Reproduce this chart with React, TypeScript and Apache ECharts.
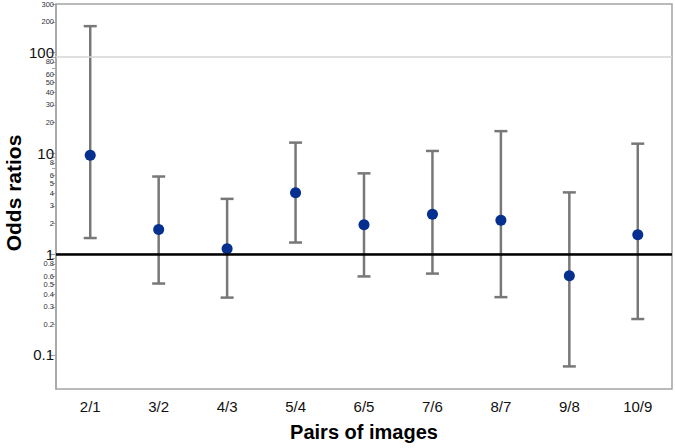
import React, { useEffect, useRef } from "react";
import * as echarts from "echarts";

const categories = ["2/1", "3/2", "4/3", "5/4", "6/5", "7/6", "8/7", "9/8", "10/9"];
const oddsRatio = [9.5, 1.75, 1.13, 4.05, 1.95, 2.48, 2.16, 0.61, 1.55];
const lowerCI = [1.44, 0.51, 0.37, 1.3, 0.6, 0.64, 0.374, 0.077, 0.227];
const upperCI = [181, 5.86, 3.52, 12.7, 6.3, 10.5, 16.5, 4.08, 12.4];

const majorTickValues = [0.1, 1, 10, 100];
const minorLabelValues = [0.2, 0.3, 0.4, 0.5, 0.6, 0.8, 2, 3, 4, 5, 6, 8, 20, 30, 40, 50, 60, 80, 200, 300];
const minorTickValues = [0.2, 0.3, 0.4, 0.5, 0.6, 0.7, 0.8, 0.9, 2, 3, 4, 5, 6, 7, 8, 9, 20, 30, 40, 50, 60, 70, 80, 90, 200, 300];
const yMin = 0.046;
const yMax = 300;
const referenceValue = 1;
const gridLineValue = 90;

const lg = (v: number) => Math.log10(v);
const fmt = (v: number) => String(parseFloat(Math.pow(10, v).toPrecision(2)));

const FONT = "'Liberation Sans', Arial, sans-serif";
const AXIS_GRAY = "#a4a4a4";

export default function App() {
  const ref = useRef<HTMLDivElement>(null);
  useEffect(() => {
    if (!ref.current) return;
    const chart = echarts.init(ref.current, null, { renderer: "svg" });
    const baseY = {
      type: "value" as const,
      position: "left" as const,
      min: lg(yMin),
      max: lg(yMax),
      splitLine: { show: false },
    };
    chart.setOption({
      animation: false,
      backgroundColor: "#ffffff",
      grid: {
        left: 56,
        right: 3,
        top: 3,
        bottom: 59,
        show: true,
        borderColor: AXIS_GRAY,
        borderWidth: 1.5,
      },
      xAxis: {
        type: "category",
        data: categories,
        boundaryGap: true,
        axisLine: { lineStyle: { color: AXIS_GRAY, width: 1.5 } },
        axisTick: { alignWithLabel: true, length: 5, lineStyle: { color: AXIS_GRAY, width: 1.5 } },
        axisLabel: { color: "#111", fontSize: 15, fontFamily: FONT, margin: 10 },
        splitLine: { show: false },
      },
      yAxis: [
        {
          ...baseY,
          axisLine: { show: true, lineStyle: { color: AXIS_GRAY, width: 1.5 } },
          axisTick: {
            show: true,
            length: 7,
            lineStyle: { color: AXIS_GRAY, width: 1.2 },
            customValues: majorTickValues.map(lg),
          },
          axisLabel: {
            show: true,
            fontSize: 15,
            lineHeight: 11,
            color: "#111",
            fontFamily: FONT,
            margin: 2,
            customValues: majorTickValues.map(lg),
            formatter: (v: number) => fmt(v),
          },
        },
        {
          ...baseY,
          axisLine: { show: false },
          axisTick: {
            show: true,
            length: 4,
            lineStyle: { color: AXIS_GRAY, width: 1 },
            customValues: minorTickValues.map(lg),
          },
          axisLabel: {
            show: true,
            fontSize: 7.5,
            lineHeight: 7,
            color: "#333",
            fontFamily: FONT,
            margin: 2,
            customValues: minorLabelValues.map(lg),
            formatter: (v: number) => fmt(v),
          },
        },
      ],
      graphic: [
        {
          type: "text",
          x: 364,
          y: 432,
          style: {
            text: "Pairs of images",
            font: `bold 20px ${FONT}`,
            fill: "#000",
            align: "center",
            verticalAlign: "middle",
          },
        },
        {
          type: "text",
          x: 13,
          y: 193,
          rotation: Math.PI / 2,
          style: {
            text: "Odds ratios",
            font: `bold 21px ${FONT}`,
            fill: "#000",
            align: "center",
            verticalAlign: "middle",
          },
        },
      ],
      series: [
        {
          type: "line",
          data: [],
          z: 1,
          markLine: {
            silent: true,
            symbol: "none",
            label: { show: false },
            data: [
              { yAxis: lg(gridLineValue), lineStyle: { color: "#d4d4d4", width: 1.5, type: "solid" } },
              { yAxis: lg(referenceValue), lineStyle: { color: "#000", width: 2.5, type: "solid" } },
            ],
          },
        },
        {
          type: "custom",
          z: 3,
          data: categories.map((_, i) => [i, lg(lowerCI[i]), lg(upperCI[i])]),
          renderItem: (params: any, api: any) => {
            const lo = api.coord([api.value(0), api.value(1)]);
            const hi = api.coord([api.value(0), api.value(2)]);
            const cap = 6.5;
            const style = { stroke: "#787878", lineWidth: 2.5 };
            return {
              type: "group",
              children: [
                { type: "line", shape: { x1: lo[0], y1: lo[1], x2: hi[0], y2: hi[1] }, style },
                { type: "line", shape: { x1: hi[0] - cap, y1: hi[1], x2: hi[0] + cap, y2: hi[1] }, style },
                { type: "line", shape: { x1: lo[0] - cap, y1: lo[1], x2: lo[0] + cap, y2: lo[1] }, style },
              ],
            };
          },
        },
        {
          type: "scatter",
          z: 4,
          symbol: "circle",
          symbolSize: 11,
          itemStyle: { color: "#05308f", opacity: 1 },
          data: categories.map((_, i) => [i, lg(oddsRatio[i])]),
        },
      ],
    });
    return () => chart.dispose();
  }, []);
  return (
    <div
      ref={ref}
      style={{ position: "fixed", left: 0, top: 0, width: 675, height: 448, background: "#fff" }}
    />
  );
}
